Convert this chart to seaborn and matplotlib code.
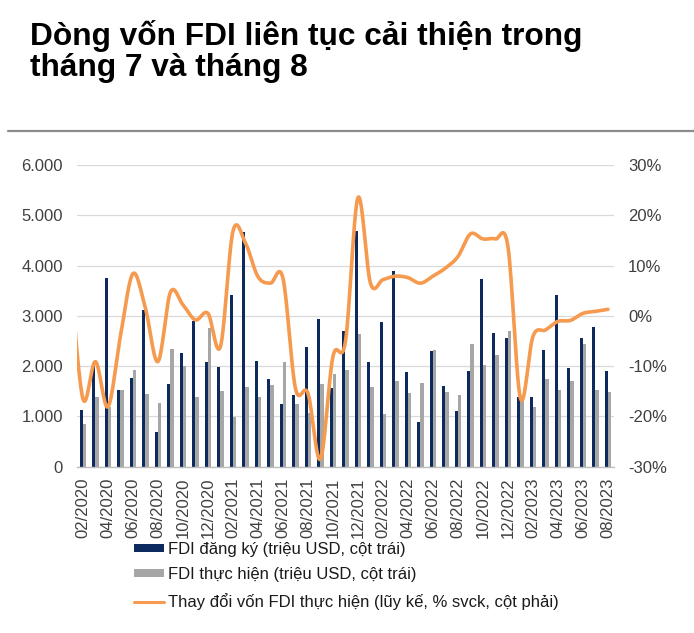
import numpy as np
import pandas as pd
import matplotlib
matplotlib.use('Agg')
import matplotlib.pyplot as plt
from matplotlib.patches import Patch
from matplotlib.lines import Line2D
import seaborn as sns

#### Data (monthly, 02/2020 - 08/2023)
months = pd.date_range('2020-02-01', '2023-08-01', freq='MS').strftime('%m/%Y').tolist()

fdi_registered = [1130, 2070, 3760, 1530, 1770, 3120, 700, 1650, 2270, 2900, 2090,
                  1990, 3420, 4660, 2110, 1740, 1250, 1430, 2380, 2940, 1560,
                  2690, 4690, 2090, 2880, 3890, 1880, 880, 2310, 1610, 1110,
                  1910, 3740, 2650, 2560, 1380, 1380, 2320, 3420, 1970, 2560, 2780, 1900]
fdi_disbursed = [840, 1380, 1180, 1530, 1930, 1450, 1270, 2350, 2010, 1380, 2760,
                 1500, 980, 1580, 1380, 1630, 2090, 1240, 1060, 1650, 1850,
                 1920, 2630, 1580, 1040, 1710, 1470, 1670, 2320, 1490, 1430,
                 2440, 2030, 2220, 2690, 1300, 1180, 1740, 1530, 1700, 2440, 1530, 1490]

# cumulative yoy change of disbursed FDI (%), first value is 01/2020 (only its edge shows)
line_months = ['01/2020'] + months
fdi_change = [8.0, -16.5, -9.1, -18.1, -4.0, 8.4, 1.5, -9.1, 4.7, 2.2, -0.8, 0.5,
              -6.1, 16.8, 14.5, 7.8, 6.5, 7.5, -14.4, -15.4, -28.5, -8.1,
              -5.1, 23.5, 6.5, 7.2, 7.9, 7.6, 6.5, 7.9, 9.5, 11.8,
              16.3, 15.3, 15.3, 13.8, -16.4, -4.1, -2.8, -1.1, -0.9, 0.5, 0.9, 1.3]

left_ticks = [0, 1000, 2000, 3000, 4000, 5000, 6000]
left_labels = ['0', '1.000', '2.000', '3.000', '4.000', '5.000', '6.000']
right_ticks = [-30, -20, -10, 0, 10, 20, 30]
right_labels = ['-30%', '-20%', '-10%', '0%', '10%', '20%', '30%']

series_names = ['FDI đăng ký (triệu USD, cột trái)',
                'FDI thực hiện (triệu USD, cột trái)',
                'Thay đổi vốn FDI thực hiện (lũy kế, % svck, cột phải)']

NAVY = '#0C2A5E'
GRAY = '#A6A6A6'
ORANGE = '#F59A4E'
TXT = '#404040'

bars = pd.DataFrame({
    'month': months * 2,
    'value': fdi_registered + fdi_disbursed,
    'series': [series_names[0]] * len(months) + [series_names[1]] * len(months),
})


def catmull_rom(xs, ys, n=16):
    # smooth curve through the points (like Excel's smoothed line)
    xs = np.asarray(xs, float)
    ys = np.asarray(ys, float)
    px = np.concatenate([[xs[0]], xs, [xs[-1]]])
    py = np.concatenate([[ys[0]], ys, [ys[-1]]])
    outx, outy = [], []
    t = np.linspace(0, 1, n, endpoint=False)
    for i in range(1, len(px) - 2):
        for p, out in ((px, outx), (py, outy)):
            p0, p1, p2, p3 = p[i - 1], p[i], p[i + 1], p[i + 2]
            out.extend(0.5 * (2 * p1 + (-p0 + p2) * t
                              + (2 * p0 - 5 * p1 + 4 * p2 - p3) * t ** 2
                              + (-p0 + 3 * p1 - 3 * p2 + p3) * t ** 3))
    outx.append(xs[-1])
    outy.append(ys[-1])
    return np.array(outx), np.array(outy)


sns.set_style('white')
plt.rcParams['font.family'] = ['Liberation Sans', 'DejaVu Sans']

fig = plt.figure(figsize=(6.94, 6.33), dpi=100)
ax = fig.add_axes([0.1105, 0.2627, 0.7745, 0.4766])

sns.barplot(data=bars, x='month', y='value', hue='series', palette=[NAVY, GRAY],
            width=0.5, dodge=True, saturation=1, legend=False, linewidth=0, ax=ax)

ax.set_xlim(-0.5, len(months) - 0.5)
ax.set_ylim(0, 6000)
ax.set_yticks(left_ticks)
ax.set_yticklabels(left_labels)
ax.yaxis.grid(True, color='#D9D9D9', linewidth=0.9)
ax.set_axisbelow(True)
ax.set_xlabel('')
ax.set_ylabel('')
for s in ['top', 'left', 'right']:
    ax.spines[s].set_visible(False)
ax.spines['bottom'].set_color('#BFBFBF')
ax.spines['bottom'].set_linewidth(1)

# ticks every two months at category borders, labels on even months
ax.set_xticks(np.arange(0, len(months), 2))
ax.set_xticklabels(months[::2], rotation=90, fontsize=12, color=TXT)
ax.set_xticks(np.arange(-0.5, len(months), 2), minor=True)
ax.tick_params(axis='x', which='major', length=0, pad=8)
ax.tick_params(axis='x', which='minor', length=5, color='#BFBFBF', width=1)
ax.tick_params(axis='y', length=0, pad=10, labelsize=12, labelcolor=TXT)

ax2 = ax.twinx()
line_x = np.arange(-1, len(months))
sx, sy = catmull_rom(line_x, fdi_change)
sns.lineplot(x=sx, y=sy, sort=False, color=ORANGE, linewidth=2.6, ax=ax2)
ax2.set_xlim(-0.5, len(months) - 0.5)
ax2.set_ylim(-30, 30)
ax2.set_yticks(right_ticks)
ax2.set_yticklabels(right_labels)
ax2.tick_params(axis='y', length=0, pad=10, labelsize=12, labelcolor=TXT)
for s in ax2.spines.values():
    s.set_visible(False)

# title and rule
fig.text(30 / 694, 1 - 45 / 633, 'Dòng vốn FDI liên tục cải thiện trong',
         fontsize=22.8, fontweight='bold', va='baseline', ha='left', color='black')
fig.text(30 / 694, 1 - 76 / 633, 'tháng 7 và tháng 8',
         fontsize=22.8, fontweight='bold', va='baseline', ha='left', color='black')
fig.add_artist(Line2D([8 / 694, 1], [1 - 131 / 633] * 2, color='#8C8C8C', linewidth=1.6))

handles = [Patch(facecolor=NAVY, edgecolor='none'),
           Patch(facecolor=GRAY, edgecolor='none'),
           Line2D([], [], color=ORANGE, linewidth=2.2)]
fig.legend(handles, series_names, loc='upper left', bbox_to_anchor=(134 / 694, 1 - 542 / 633),
           frameon=False, fontsize=12, handlelength=1.8, handleheight=0.35,
           handletextpad=0.25, labelspacing=0.62, borderpad=0, borderaxespad=0,
           labelcolor='#1a1a1a')

fig.savefig('out.png', dpi=100)
